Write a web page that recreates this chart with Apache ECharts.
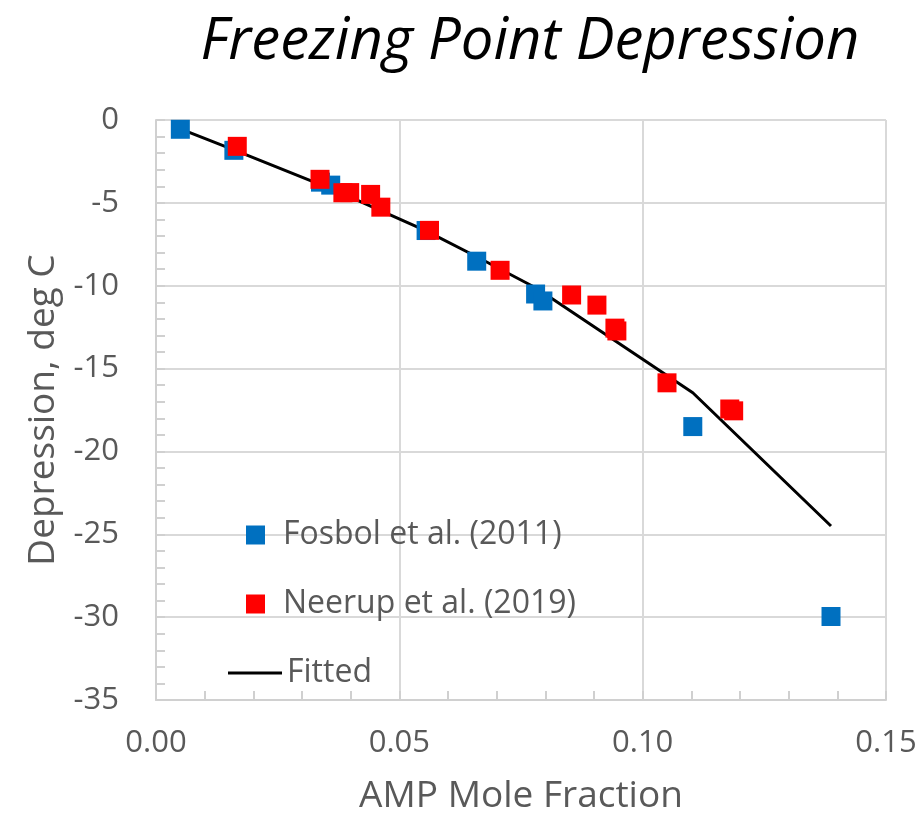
<!DOCTYPE html>
<html>
<head>
<meta charset="utf-8">
<script src="https://cdn.jsdelivr.net/npm/echarts@6/dist/echarts.min.js"></script>
<style>
html,body{margin:0;padding:0;background:#fff;}
#chart{width:923px;height:820px;}
</style>
</head>
<body>
<div id="chart"></div>
<script>
// ---- data ----
const fosbolX = [0.005, 0.016, 0.0338, 0.0359, 0.0555, 0.0659, 0.0780, 0.0795, 0.1103, 0.1387];
const fosbolY = [-0.56, -1.83, -3.75, -3.93, -6.67, -8.52, -10.50, -10.92, -18.5, -29.96];
const neerupX = [0.0167, 0.0337, 0.0384, 0.0398, 0.0441, 0.0462, 0.0562, 0.0707, 0.0854, 0.0906, 0.0943, 0.0947, 0.1050, 0.1179, 0.1187];
const neerupY = [-1.59, -3.58, -4.39, -4.38, -4.49, -5.26, -6.66, -9.07, -10.56, -11.17, -12.56, -12.73, -15.86, -17.44, -17.55];
const fitX = [0.005, 0.016, 0.0338, 0.0359, 0.0555, 0.0659, 0.0780, 0.0795, 0.1103, 0.1387];
const fitY = [-0.53, -1.80, -3.90, -4.12, -6.69, -8.25, -10.12, -10.41, -16.46, -24.5];
const seriesNames = ['Fosbol et al. (2011)', 'Neerup et al. (2019)', 'Fitted'];
const titleText = 'Freezing Point Depression';
const xTitle = 'AMP Mole Fraction';
const yTitle = 'Depression, deg C';

const zip = (xs, ys) => xs.map((x, i) => [x, ys[i]]);
const FONT = 'Open Sans';
const GRAY = '#595959';
const GRID = '#d9d9d9';
const AXIS = '#d0d0d0';

const chart = echarts.init(document.getElementById('chart'), null, {renderer: 'canvas'});
chart.setOption({
  animation: false,
  backgroundColor: '#ffffff',
  title: {
    text: titleText,
    left: 525,
    textAlign: 'center',
    top: 8,
    textStyle: {fontFamily: FONT, fontStyle: 'italic', fontWeight: 'normal', fontSize: 58, color: '#000000'}
  },
  grid: {left: 156, right: 37, top: 120, bottom: 119, containLabel: false},
  legend: [
    {
      data: [seriesNames[0]], orient: 'vertical', left: 241, top: 514,
      itemWidth: 19, itemHeight: 19, icon: 'rect',
      textStyle: {fontFamily: FONT, fontSize: 32, color: GRAY, lineHeight: 19, padding: [0, 0, 0, 13]}
    },
    {
      data: [seriesNames[1]], orient: 'vertical', left: 241, top: 583,
      itemWidth: 19, itemHeight: 19, icon: 'rect',
      textStyle: {fontFamily: FONT, fontSize: 32, color: GRAY, lineHeight: 19, padding: [0, 0, 0, 13]}
    },
    {
      data: [{name: seriesNames[2], icon: 'rect'}], orient: 'vertical', left: 223, top: 652,
      itemWidth: 54, itemHeight: 3,
      itemStyle: {color: '#000000'},
      textStyle: {fontFamily: FONT, fontSize: 32, color: GRAY, lineHeight: 19, padding: [0, 0, 0, 0]}
    }
  ],
  xAxis: {
    type: 'value', min: 0, max: 0.15, interval: 0.05,
    name: xTitle, nameLocation: 'middle', nameGap: 78,
    nameTextStyle: {fontFamily: FONT, fontSize: 37, color: GRAY},
    axisLine: {show: true, onZero: false, lineStyle: {color: AXIS, width: 2}},
    axisTick: {show: true, inside: true, length: 9, lineStyle: {color: AXIS, width: 2}},
    minorTick: {show: true, splitNumber: 5, length: 9, lineStyle: {color: AXIS, width: 2}},
    axisLabel: {fontFamily: FONT, fontSize: 31, color: GRAY, margin: 28, formatter: v => v.toFixed(2)},
    splitLine: {show: true, lineStyle: {color: GRID, width: 2}}
  },
  yAxis: {
    type: 'value', min: -35, max: 0, interval: 5,
    name: yTitle, nameLocation: 'middle', nameGap: 94,
    nameTextStyle: {fontFamily: FONT, fontSize: 37, color: GRAY},
    axisLine: {show: true, onZero: false, lineStyle: {color: AXIS, width: 2}},
    axisTick: {show: true, inside: true, length: 9, lineStyle: {color: AXIS, width: 2}},
    minorTick: {show: true, splitNumber: 5, length: 9, lineStyle: {color: AXIS, width: 2}},
    axisLabel: {fontFamily: FONT, fontSize: 31, color: GRAY, margin: 37},
    splitLine: {show: true, lineStyle: {color: GRID, width: 2}}
  },
  series: [
    {
      name: seriesNames[2], type: 'line', z: 1,
      data: zip(fitX, fitY), showSymbol: false, symbol: 'none',
      lineStyle: {color: '#000000', width: 3}, itemStyle: {color: '#000000'}
    },
    {
      name: seriesNames[0], type: 'scatter', z: 3,
      data: zip(fosbolX, fosbolY), symbol: 'rect', symbolSize: 19,
      itemStyle: {color: '#0070C0', opacity: 1}
    },
    {
      name: seriesNames[1], type: 'scatter', z: 4,
      data: zip(neerupX, neerupY), symbol: 'rect', symbolSize: 19,
      itemStyle: {color: '#FF0000', opacity: 1}
    }
  ]
});
</script>
</body>
</html>
